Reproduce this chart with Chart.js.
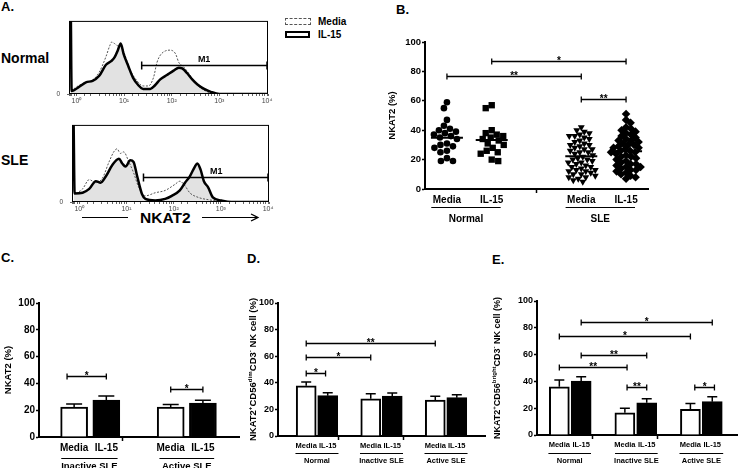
<!DOCTYPE html>
<html>
<head>
<meta charset="utf-8">
<script src="https://cdn.jsdelivr.net/npm/chart.js@4.4.1/dist/chart.umd.min.js"></script>
<style>
  body { margin: 0; background: #fff; width: 740px; height: 468px; overflow: hidden; position: relative;
         font-family: 'Liberation Sans', Arial, Helvetica, sans-serif; }
  canvas { position: absolute; }
  .t { position: absolute; font-weight: bold; line-height: 1; white-space: nowrap; color: #000; }
</style>
</head>
<body>
<div class="t" style="left:1px;top:0px;font-size:13px">A.</div>
<div class="t" style="left:1px;top:51px;font-size:14px">Normal</div>
<div class="t" style="left:1px;top:153px;font-size:14px">SLE</div>
<div class="t" style="left:140px;top:210px;font-size:15.5px">NKAT2</div>
<svg style="position:absolute;left:80px;top:212px" width="185" height="12">
  <line x1="2" y1="5.5" x2="48" y2="5.5" stroke="#000" stroke-width="1.2"/>
  <line x1="122" y1="5.5" x2="177" y2="5.5" stroke="#000" stroke-width="1.2"/>
  <path d="M171 2 L178 5.5 L171 9" fill="none" stroke="#000" stroke-width="1.2"/>
</svg>
<div style="position:absolute;left:285px;top:18px;width:24px;height:5px;border:1px dashed #555"></div>
<div class="t" style="left:318px;top:17px;font-size:10px">Media</div>
<div style="position:absolute;left:285px;top:31px;width:21px;height:3px;border:2.5px solid #000"></div>
<div class="t" style="left:318px;top:30px;font-size:10px">IL-15</div>
<div class="t" style="left:396px;top:3px;font-size:13px">B.</div>
<div class="t" style="left:1px;top:251px;font-size:13px">C.</div>
<div class="t" style="left:247px;top:252px;font-size:13px">D.</div>
<div class="t" style="left:492px;top:253px;font-size:13px">E.</div>

<script>
// ---- A: histograms (x = log10 fluorescence, y = % of plot height)
const normMediaX = [-0.12, 0.06, 0.20, 0.34, 0.48, 0.62, 0.70, 0.74, 0.80, 0.87, 0.93, 1.01, 1.12, 1.26, 1.40, 1.51, 1.62, 1.69, 1.76, 1.87, 1.97, 2.08, 2.15, 2.25, 2.36, 2.47, 2.61, 2.79, 2.96, 4.02];
const normMediaY = [4, 12, 16, 19, 30, 51, 66, 71, 69, 66, 68, 55, 34, 19, 11, 11, 23, 43, 53, 59, 60, 55, 43, 37, 28, 17, 8, 2, 0, 0];
const normIL15X = [-0.115, -0.10, 0.06, 0.20, 0.34, 0.48, 0.62, 0.73, 0.80, 0.87, 0.93, 0.99, 1.09, 1.19, 1.30, 1.40, 1.55, 1.65, 1.76, 1.90, 2.04, 2.15, 2.22, 2.33, 2.43, 2.54, 2.68, 2.82, 3.00, 4.02];
const normIL15Y = [100, 4, 10, 16, 18, 25, 40, 45, 50, 60, 69, 55, 38, 22, 12, 7, 7, 12, 20, 26, 32, 36, 35, 28, 20, 13, 7, 3, 0, 0];
const sleMediaX = [-0.07, 0.07, 0.21, 0.35, 0.49, 0.63, 0.73, 0.80, 0.87, 0.94, 1.05, 1.15, 1.26, 1.40, 1.61, 1.82, 2.03, 2.13, 2.24, 2.34, 2.52, 2.73, 3.01, 3.29, 4.02];
const sleMediaY = [11, 17, 29, 25, 31, 52, 65, 69, 63, 65, 52, 38, 19, 8, 12, 15, 23, 27, 21, 12, 6, 3, 1, 0, 0];
const sleIL15X = [-0.12, -0.10, 0.07, 0.21, 0.35, 0.45, 0.56, 0.70, 0.84, 0.91, 0.98, 1.08, 1.15, 1.22, 1.33, 1.40, 1.61, 1.82, 1.96, 2.13, 2.24, 2.34, 2.45, 2.50, 2.57, 2.64, 2.73, 2.83, 3.01, 3.22, 4.02];
const sleIL15Y = [100, 11, 12, 17, 27, 25, 33, 48, 56, 50, 46, 54, 52, 35, 10, 4, 2, 4, 8, 15, 25, 33, 46, 50, 42, 27, 19, 6, 2, 0, 0];
const gateNormal = [1.37, 4.02, 40];
const gateSLE = [1.36, 4.02, 32];
const histTicks = ['10\u2070', '10\u00b9', '10\u00b2', '10\u00b3', '10\u2074'];

// ---- B: scatter NKAT2 (%)
const bCats = ['Media', 'IL-15', '', 'Media', 'IL-15'];
const bGroups = ['Normal', 'SLE'];
const bNormalMedia = [59, 55, 47, 43, 41, 40, 39, 38, 37, 36, 35, 34, 31, 30, 29, 28, 26, 25, 21, 19, 19];
const bNormalIL15 = [57, 55, 40, 38, 37, 36, 35, 34, 33, 31, 30, 28, 26, 25, 24, 20, 19];
const bSLEMedia = [42, 40, 39, 38, 37, 36, 36, 35, 34, 33, 32, 31, 30, 30, 29, 28, 27, 27, 26, 25, 25, 24, 23, 22,
                   21, 20, 20, 19, 18, 18, 17, 16, 15, 15, 14, 13, 13, 12, 12, 11, 10, 10, 9, 8, 8, 7, 6, 5];
const bSLEIL15 = [51, 47, 45, 42, 41, 40, 39, 38, 37, 36, 35, 34, 33, 33, 32, 31, 30, 30, 29, 28, 28, 27, 26, 26,
                  25, 25, 24, 23, 22, 22, 21, 20, 19, 18, 17, 17, 16, 15, 15, 14, 13, 13, 12, 11, 10, 9, 8, 7];
const bBrackets = [[0, 3, 77, '**'], [1, 4, 87, '*'], [3, 4, 61, '**']];

// ---- C: inactive vs active SLE
const cCats = ['Media', 'IL-15', '', 'Media', 'IL-15'];
const cGroups = ['Inactive SLE', 'Active SLE'];
const cMedia = [22.4, 22.4];
const cMediaErr = [2.2, 1.8];
const cIL15 = [27.6, 25.4];
const cIL15Err = [3.0, 2.0];
const cBrackets = [[-0.22, 1, 45.5, '*'], [3, 4, 36, '*']];

// ---- D / E: CD56dim and CD56bright subsets
const deCats = ['Media', 'IL-15', '', 'Media', 'IL-15', '', 'Media', 'IL-15'];
const deGroups = ['Normal', 'Inactive SLE', 'Active SLE'];
const dMedia = [37.8, 28.0, 27.0];
const dMediaErr = [2.8, 3.8, 2.8];
const dIL15 = [30.3, 30.0, 28.8];
const dIL15Err = [2.3, 2.3, 2.2];
const dBrackets = [[0, 6, 70, '**'], [0, 3, 59.6, '*'], [0, 0.9, 47.6, '*']];
const eMedia = [36.0, 16.6, 19.2];
const eMediaErr = [5.0, 3.4, 4.4];
const eIL15 = [40.3, 24.0, 24.9];
const eIL15Err = [3.2, 3.0, 3.7];
const eBrackets = [[1, 7, 84, '*'], [0, 6, 74, '*'], [1, 4, 59.7, '**'], [0, 3.1, 50.5, '**'], [3.1, 4, 36, '**'], [6.2, 7.1, 36, '*']];

const FONT = "'Liberation Sans', Arial, Helvetica, sans-serif";
Chart.defaults.font.family = FONT;
Chart.defaults.color = '#000';
Chart.defaults.animation = false;
Chart.defaults.plugins.legend.display = false;
Chart.defaults.plugins.tooltip.enabled = false;

function mk(left, top, w, h) {
    const c = document.createElement('canvas');
    c.width = w; c.height = h;
    c.style.left = left + 'px'; c.style.top = top + 'px';
    c.style.width = w + 'px'; c.style.height = h + 'px';
    document.body.appendChild(c);
    return c;
}

const mean = a => a.reduce((s, v) => s + v, 0) / a.length;

// simple beeswarm so that points of a column do not sit on top of each other
function swarm(vals, cat, dPx, maxPx, pxX, pxY) {
    const placed = [];
    const out = [];
    vals.slice().sort((a, b) => b - a).forEach((v, n) => {
        const py = v * pxY;
        const cands = [0];
        for (let s = 0.5; s <= maxPx; s += 0.5) {
            if (n % 2) cands.push(-s, s); else cands.push(s, -s);
        }
        let best = 0, bestD = -1;
        for (const dx of cands) {
            let m = Infinity;
            for (const p of placed) m = Math.min(m, Math.hypot(dx - p[0], py - p[1]));
            if (m >= dPx) { best = dx; break; }
            if (m > bestD) { bestD = m; best = dx; }
        }
        placed.push([best, py]);
        out.push({ x: cat + best / pxX, y: v });
    });
    return out;
}

function drawRich(ctx, segs, cx, cy, size) {
    ctx.save();
    ctx.translate(cx, cy);
    ctx.rotate(-Math.PI / 2);
    ctx.textAlign = 'left';
    ctx.textBaseline = 'alphabetic';
    ctx.fillStyle = '#000';
    const big = 'bold ' + size + 'px ' + FONT;
    const small = 'bold ' + (size * 0.65).toFixed(1) + 'px ' + FONT;
    let w = 0;
    segs.forEach(([t, s]) => { ctx.font = s ? small : big; w += ctx.measureText(t).width; });
    let x = -w / 2;
    const base = size * 0.36;
    segs.forEach(([t, s]) => {
        ctx.font = s ? small : big;
        ctx.fillText(t, x, s ? base - size * 0.42 : base);
        x += ctx.measureText(t).width;
    });
    ctx.restore();
}

// error bars, brackets, mean lines, group labels
function decor(o) {
    return {
        id: 'decor',
        afterDatasetsDraw(chart) {
            const { ctx, scales: { x, y } } = chart;
            ctx.save();
            ctx.strokeStyle = '#000';
            ctx.fillStyle = '#000';
            (o.errs || []).forEach(([di, errs, cap]) => {
                chart.getDatasetMeta(di).data.forEach((bar, i) => {
                    const v = chart.data.datasets[di].data[i].y;
                    const top = y.getPixelForValue(v + errs[i]);
                    ctx.lineWidth = 1.5;
                    ctx.beginPath();
                    ctx.moveTo(bar.x, bar.y);
                    ctx.lineTo(bar.x, top);
                    ctx.moveTo(bar.x - cap / 2, top);
                    ctx.lineTo(bar.x + cap / 2, top);
                    ctx.stroke();
                });
            });
            (o.means || []).forEach(([cat, vals]) => {
                const cx = x.getPixelForValue(cat), yy = y.getPixelForValue(mean(vals));
                ctx.lineWidth = 2;
                ctx.beginPath();
                ctx.moveTo(cx - 16, yy);
                ctx.lineTo(cx + 16, yy);
                ctx.stroke();
            });
            (o.brackets || []).forEach(([i1, i2, v, lab]) => {
                const x1 = x.getPixelForValue(i1), x2 = x.getPixelForValue(i2);
                const yy = Math.round(y.getPixelForValue(v)) + 0.5;
                ctx.lineWidth = 1.3;
                ctx.beginPath();
                ctx.moveTo(x1, yy); ctx.lineTo(x2, yy);
                ctx.moveTo(x1, yy - 3); ctx.lineTo(x1, yy + 3);
                ctx.moveTo(x2, yy - 3); ctx.lineTo(x2, yy + 3);
                ctx.stroke();
                ctx.font = 'bold 10px ' + FONT;
                ctx.textAlign = 'center';
                ctx.textBaseline = 'alphabetic';
                ctx.fillText(lab, (x1 + x2) / 2, yy + 2.5);
            });
            ctx.restore();
        },
        afterDraw(chart) {
            const { ctx, chartArea: a, scales: { x } } = chart;
            ctx.save();
            ctx.fillStyle = '#000';
            ctx.strokeStyle = '#000';
            ctx.font = 'bold ' + o.gFont + 'px ' + FONT;
            ctx.textAlign = 'center';
            ctx.textBaseline = 'middle';
            o.groups.forEach(([name, i1, i2]) => {
                const x1 = x.getPixelForValue(i1), x2 = x.getPixelForValue(i2);
                const ly = Math.round(a.bottom + o.gLine) + 0.5;
                ctx.lineWidth = 1;
                ctx.beginPath();
                ctx.moveTo(x1, ly); ctx.lineTo(x2, ly);
                ctx.stroke();
                ctx.fillText(name, (x1 + x2) / 2, a.bottom + o.gText);
            });
            if (o.title) drawRich(ctx, o.title.segs, o.title.x, (a.top + a.bottom) / 2, o.title.size);
            ctx.restore();
        }
    };
}

function yAxis(yW, size, title) {
    return {
        min: 0, max: 100,
        ticks: { stepSize: 20, color: '#000', font: { size, weight: 'bold' }, padding: 1 },
        grid: { drawOnChartArea: false, color: '#000', tickLength: 3, tickWidth: 1.5 },
        border: { color: '#000', width: 2 },
        title: title ? { display: true, text: title, color: '#000', font: { size: 9.5, weight: 'bold' }, padding: 0 } : { display: false },
        afterFit: s => { s.width = yW; }
    };
}

function xAxis(labels, min, max, xH, size) {
    return {
        type: 'linear', min, max,
        afterBuildTicks: s => { s.ticks = labels.map((_, i) => ({ value: i })); },
        ticks: { autoSkip: false, maxRotation: 0, minRotation: 0, color: '#000', font: { size, weight: 'bold' }, padding: 1,
                 callback: v => labels[v] },
        grid: { drawOnChartArea: false, tickLength: 4, tickWidth: 1.5,
                color: c => (c.tick && labels[c.tick.value] === '') ? '#000' : 'rgba(0,0,0,0)' },
        border: { color: '#000', width: 2 },
        afterFit: s => { s.height = xH; }
    };
}

function barSets(med, il, medPos, ilPos, thick) {
    const base = { borderColor: '#000', borderWidth: 2, barThickness: thick, grouped: false };
    return [
        Object.assign({ data: med.map((v, i) => ({ x: medPos[i], y: v })), backgroundColor: '#fff' }, base),
        Object.assign({ data: il.map((v, i) => ({ x: ilPos[i], y: v })), backgroundColor: '#000' }, base)
    ];
}

// ---- A charts
function histDecor(gate, labelAt) {
    return {
        id: 'histDecor',
        afterDatasetsDraw(chart) {
            const { ctx, chartArea: a, scales: { x, y } } = chart;
            ctx.save();
            ctx.strokeStyle = '#000';
            ctx.lineWidth = 1;
            ctx.strokeRect(a.left + 0.5, a.top + 0.5, a.width - 1, a.height - 1);
            const x1 = x.getPixelForValue(Math.pow(10, gate[0]));
            const x2 = x.getPixelForValue(Math.pow(10, gate[1])) - 1;
            const yy = Math.round(y.getPixelForValue(gate[2])) + 0.5;
            ctx.lineWidth = 1.5;
            ctx.beginPath();
            ctx.moveTo(x1, yy); ctx.lineTo(x2, yy);
            ctx.moveTo(x1, yy - 4); ctx.lineTo(x1, yy + 4);
            ctx.moveTo(x2, yy - 4); ctx.lineTo(x2, yy + 4);
            ctx.stroke();
            ctx.fillStyle = '#000';
            ctx.font = 'bold 9px ' + FONT;
            ctx.textAlign = 'center';
            ctx.textBaseline = 'alphabetic';
            ctx.fillText('M1', x.getPixelForValue(Math.pow(10, labelAt)), yy - 4);
            ctx.restore();
        }
    };
}

function hist(canvas, mX, mY, iX, iY, gate, labelAt, yW, padRight) {
    const pts = (xs, ys) => xs.map((d, i) => ({ x: Math.pow(10, d), y: ys[i] }));
    return new Chart(canvas, {
        type: 'line',
        data: {
            datasets: [
                { data: pts(iX, iY), borderColor: '#000', borderWidth: 2.5, fill: 'origin',
                  backgroundColor: '#e2e2e2', cubicInterpolationMode: 'monotone', pointRadius: 0 },
                { data: pts(mX, mY), borderColor: '#555', borderWidth: 1, borderDash: [2, 1.5], fill: false,
                  cubicInterpolationMode: 'monotone', pointRadius: 0 }
            ]
        },
        options: {
            responsive: false, devicePixelRatio: 1,
            layout: { padding: { top: 4, right: padRight, left: 0, bottom: 0 } },
            plugins: { filler: { drawTime: 'beforeDatasetsDraw' } },
            scales: {
                x: {
                    type: 'logarithmic', min: Math.pow(10, -0.125), max: Math.pow(10, 4.02),
                    ticks: { autoSkip: false, maxRotation: 0, font: { size: 7 }, color: '#444', padding: 1,
                             callback: v => {
                                 const l = Math.log10(v), r = Math.round(l);
                                 return (Math.abs(l - r) < 1e-6 && r >= 0 && r <= 4) ? histTicks[r] : '';
                             } },
                    grid: { drawOnChartArea: false, tickLength: 2, color: '#666' },
                    border: { display: false },
                    afterFit: s => { s.height = 14; }
                },
                y: {
                    min: 0, max: 100,
                    afterBuildTicks: s => { s.ticks = [{ value: 0 }]; },
                    ticks: { font: { size: 6.5 }, color: '#444', padding: 7, callback: () => '0' },
                    grid: { drawOnChartArea: false, tickLength: 2, color: '#666' },
                    border: { display: false },
                    afterFit: s => { s.width = yW; }
                }
            }
        },
        plugins: [histDecor(gate, labelAt)]
    });
}

hist(mk(50, 10, 224, 98), normMediaX, normMediaY, normIL15X, normIL15Y, gateNormal, 2.68, 19, 6);
hist(mk(52, 114, 224, 102), sleMediaX, sleMediaY, sleIL15X, sleIL15Y, gateSLE, 2.9, 20, 7);

// ---- B chart
const PXX = 44.75, PXY = 1.47;
new Chart(mk(387, 32, 268, 197), {
    type: 'scatter',
    data: {
        datasets: [
            { data: swarm(bNormalMedia, 0, 6.5, 14, PXX, PXY), pointStyle: 'circle', pointRadius: 3.3 },
            { data: swarm(bNormalIL15, 1, 6.5, 14, PXX, PXY), pointStyle: 'rect', pointRadius: 4.5 },
            { data: swarm(bSLEMedia, 3, 5.2, 15, PXX, PXY), pointStyle: 'triangle', rotation: 180, pointRadius: 4 },
            { data: swarm(bSLEIL15, 4, 5.2, 15, PXX, PXY), pointStyle: 'rectRot', pointRadius: 4.3 }
        ].map(d => Object.assign(d, { backgroundColor: '#000', borderWidth: 0 }))
    },
    options: {
        responsive: false, devicePixelRatio: 1,
        layout: { padding: { top: 10, right: 7, left: 0, bottom: 0 } },
        scales: { x: xAxis(bCats, -0.49, 4.49, 40, 10), y: yAxis(38, 9.5, 'NKAT2 (%)') }
    },
    plugins: [decor({
        means: [[0, bNormalMedia], [1, bNormalIL15], [3, bSLEMedia], [4, bSLEIL15]],
        brackets: bBrackets,
        groups: [[bGroups[0], -0.35, 1.2], [bGroups[1], 2.65, 4.2]],
        gLine: 18, gText: 30, gFont: 10
    })]
});

// ---- C chart
new Chart(mk(3, 293, 240, 175), {
    type: 'bar',
    data: { datasets: barSets(cMedia, cIL15, [0, 3], [1, 4], 27) },
    options: {
        responsive: false, devicePixelRatio: 1,
        layout: { padding: { top: 10, right: 4, left: 0, bottom: 0 } },
        scales: { x: xAxis(cCats, -0.47, 4.5, 31, 10), y: yAxis(36, 10, 'NKAT2 (%)') }
    },
    plugins: [decor({
        errs: [[0, cMediaErr, 16], [1, cIL15Err, 16]],
        brackets: cBrackets,
        groups: [[cGroups[0], -0.4, 1.35], [cGroups[1], 2.65, 4.35]],
        gLine: 21, gText: 29, gFont: 9.5
    })]
});

// ---- D chart
new Chart(mk(246, 293, 242, 175), {
    type: 'bar',
    data: { datasets: barSets(dMedia, dIL15, [0, 3, 6], [1, 4, 7], 20) },
    options: {
        responsive: false, devicePixelRatio: 1,
        layout: { padding: { top: 10, right: 3, left: 0, bottom: 0 } },
        scales: { x: xAxis(deCats, -0.71, 7.71, 32, 7.5), y: yAxis(32, 9) }
    },
    plugins: [decor({
        errs: [[0, dMediaErr, 10], [1, dIL15Err, 10]],
        brackets: dBrackets,
        groups: [[deGroups[0], -0.5, 1.5], [deGroups[1], 2.5, 4.5], [deGroups[2], 5.5, 7.5]],
        gLine: 17, gText: 25, gFont: 7.5,
        title: { x: 7, size: 9.5, segs: [['NKAT2'], ['+', 1], ['CD56'], ['dim', 1], ['CD3'], ['-', 1], [' NK cell (%)']] }
    })]
});

// ---- E chart
new Chart(mk(488, 291, 252, 177), {
    type: 'bar',
    data: { datasets: barSets(eMedia, eIL15, [0, 3, 6], [1, 4, 7], 20) },
    options: {
        responsive: false, devicePixelRatio: 1,
        layout: { padding: { top: 10, right: 3, left: 0, bottom: 0 } },
        scales: { x: xAxis(deCats, -0.45, 7.56, 33, 7.5), y: yAxis(49, 9) }
    },
    plugins: [decor({
        errs: [[0, eMediaErr, 10], [1, eIL15Err, 10]],
        brackets: eBrackets,
        groups: [[deGroups[0], -0.5, 1.45], [deGroups[1], 2.55, 4.5], [deGroups[2], 5.5, 7.5]],
        gLine: 18, gText: 26, gFont: 7.5,
        title: { x: 9, size: 9, segs: [['NKAT2'], ['+', 1], ['CD56'], ['bright', 1], ['CD3'], ['-', 1], [' NK cell (%)']] }
    })]
});
</script>
</body>
</html>
